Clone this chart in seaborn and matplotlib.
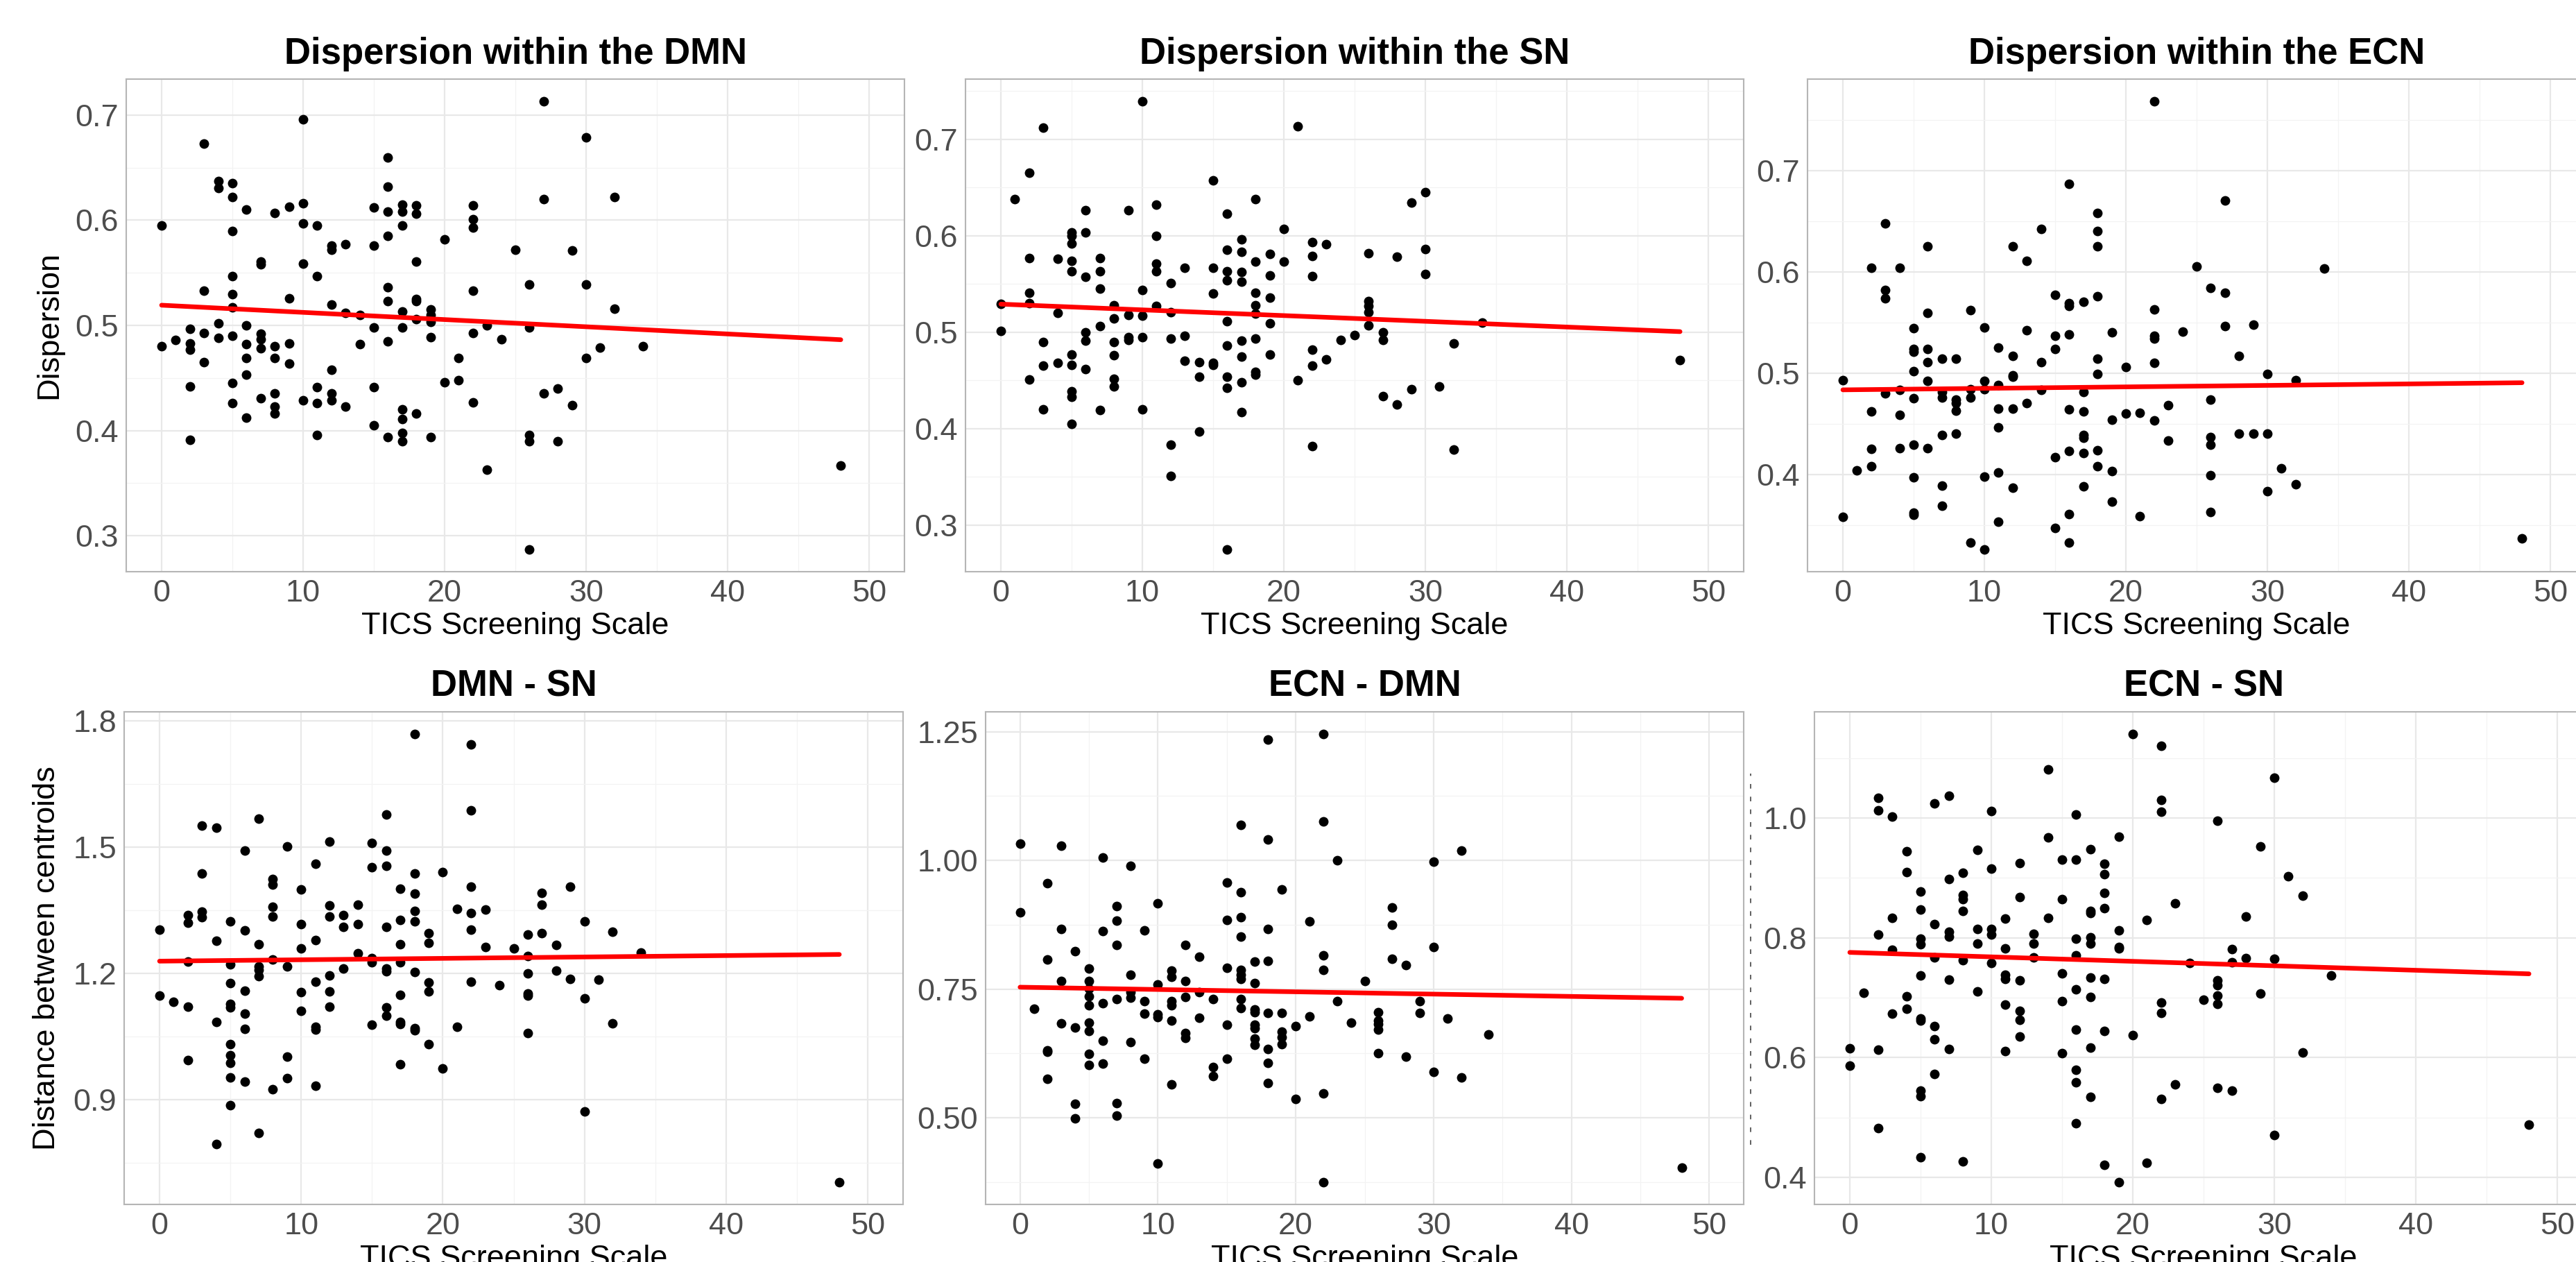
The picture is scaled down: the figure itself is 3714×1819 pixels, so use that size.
import numpy as np
import pandas as pd
import matplotlib
matplotlib.use("Agg")
import matplotlib.pyplot as plt
import seaborn as sns
from matplotlib.lines import Line2D

# ---------------- data (TICS score -> values) ----------------
disp_dmn = {0: [0.595, 0.480], 1: [0.486], 2: [0.497, 0.483, 0.477, 0.442, 0.391],
            3: [0.673, 0.533, 0.493, 0.465], 4: [0.637, 0.631, 0.502, 0.488],
            5: [0.635, 0.622, 0.590, 0.547, 0.530, 0.517, 0.490, 0.445, 0.426],
            6: [0.610, 0.500, 0.482, 0.469, 0.453, 0.412], 7: [0.561, 0.558, 0.492, 0.487, 0.478, 0.431],
            8: [0.607, 0.480, 0.469, 0.435, 0.423, 0.416], 9: [0.613, 0.526, 0.483, 0.464],
            10: [0.696, 0.616, 0.597, 0.559, 0.429], 11: [0.595, 0.547, 0.441, 0.426, 0.396],
            12: [0.576, 0.572, 0.520, 0.458, 0.435, 0.429], 13: [0.577, 0.512, 0.423], 14: [0.510, 0.482],
            15: [0.612, 0.576, 0.498, 0.441, 0.405], 16: [0.660, 0.632, 0.608, 0.585, 0.536, 0.523, 0.485, 0.394],
            17: [0.615, 0.608, 0.595, 0.513, 0.498, 0.420, 0.411, 0.398, 0.390],
            18: [0.614, 0.606, 0.561, 0.525, 0.523, 0.506, 0.416], 19: [0.515, 0.510, 0.503, 0.489, 0.394],
            20: [0.582, 0.446], 21: [0.469, 0.448], 22: [0.614, 0.601, 0.593, 0.533, 0.493, 0.427],
            23: [0.500, 0.363], 24: [0.487], 25: [0.572], 26: [0.539, 0.498, 0.396, 0.390, 0.287],
            27: [0.713, 0.620, 0.435], 28: [0.440, 0.390], 29: [0.571, 0.424], 30: [0.679, 0.539, 0.469],
            31: [0.479], 32: [0.622, 0.516], 34: [0.480], 48: [0.367]}

disp_sn = {0: [0.529, 0.501], 1: [0.638], 2: [0.665, 0.577, 0.541, 0.530, 0.451],
           3: [0.712, 0.490, 0.465, 0.420], 4: [0.576, 0.520, 0.468],
           5: [0.603, 0.600, 0.592, 0.574, 0.563, 0.477, 0.466, 0.439, 0.433, 0.405],
           6: [0.626, 0.603, 0.557, 0.500, 0.491, 0.462], 7: [0.577, 0.563, 0.545, 0.506, 0.419],
           8: [0.528, 0.514, 0.490, 0.476, 0.452, 0.444], 9: [0.626, 0.518, 0.495, 0.492],
           10: [0.739, 0.544, 0.517, 0.495, 0.420], 11: [0.632, 0.600, 0.571, 0.563, 0.527],
           12: [0.551, 0.521, 0.493, 0.383, 0.351], 13: [0.567, 0.496, 0.470], 14: [0.469, 0.454, 0.397],
           15: [0.657, 0.567, 0.540, 0.468, 0.466],
           16: [0.623, 0.585, 0.563, 0.554, 0.511, 0.486, 0.454, 0.442, 0.275],
           17: [0.596, 0.583, 0.562, 0.552, 0.491, 0.475, 0.448, 0.417],
           18: [0.638, 0.573, 0.541, 0.528, 0.519, 0.493, 0.459, 0.456],
           19: [0.581, 0.559, 0.536, 0.509, 0.477], 20: [0.607, 0.573], 21: [0.713, 0.450],
           22: [0.593, 0.579, 0.558, 0.482, 0.465, 0.382], 23: [0.591, 0.472], 24: [0.492], 25: [0.497],
           26: [0.582, 0.532, 0.527, 0.521, 0.507], 27: [0.500, 0.492, 0.434], 28: [0.578, 0.425],
           29: [0.634, 0.441], 30: [0.645, 0.586, 0.560], 31: [0.444], 32: [0.488, 0.378],
           34: [0.510], 48: [0.471]}

disp_ecn = {0: [0.493, 0.358], 1: [0.404], 2: [0.604, 0.462, 0.425, 0.408],
            3: [0.648, 0.582, 0.574, 0.480], 4: [0.604, 0.483, 0.459, 0.426],
            5: [0.544, 0.524, 0.521, 0.502, 0.475, 0.429, 0.397, 0.362, 0.360],
            6: [0.625, 0.559, 0.524, 0.511, 0.492, 0.426], 7: [0.514, 0.481, 0.476, 0.439, 0.389, 0.369],
            8: [0.514, 0.474, 0.470, 0.463, 0.440], 9: [0.562, 0.484, 0.476, 0.333],
            10: [0.545, 0.492, 0.484, 0.398, 0.326], 11: [0.525, 0.488, 0.465, 0.446, 0.402, 0.353],
            12: [0.625, 0.517, 0.498, 0.496, 0.465, 0.387], 13: [0.611, 0.542, 0.470],
            14: [0.642, 0.511, 0.483], 15: [0.577, 0.537, 0.524, 0.417, 0.347],
            16: [0.687, 0.569, 0.566, 0.538, 0.464, 0.423, 0.361, 0.333],
            17: [0.570, 0.481, 0.462, 0.439, 0.436, 0.421, 0.388],
            18: [0.658, 0.640, 0.625, 0.576, 0.514, 0.499, 0.424, 0.408],
            19: [0.540, 0.454, 0.403, 0.373], 20: [0.506, 0.460], 21: [0.461, 0.359],
            22: [0.768, 0.563, 0.537, 0.534, 0.510, 0.453], 23: [0.468, 0.433], 24: [0.541], 25: [0.605],
            26: [0.584, 0.474, 0.437, 0.429, 0.399, 0.363], 27: [0.670, 0.579, 0.546],
            28: [0.517, 0.440], 29: [0.548, 0.440], 30: [0.499, 0.440, 0.383], 31: [0.406],
            32: [0.493, 0.390], 34: [0.603], 48: [0.337]}

dist_dmn_sn = {0: [1.304, 1.148], 1: [1.133], 2: [1.339, 1.320, 1.228, 1.122, 0.994],
               3: [1.551, 1.437, 1.347, 1.333], 4: [1.546, 1.277, 1.085, 0.795],
               5: [1.323, 1.221, 1.177, 1.127, 1.119, 1.033, 1.006, 0.988, 0.953, 0.888],
               6: [1.491, 1.302, 1.159, 1.104, 1.068, 0.943], 7: [1.568, 1.269, 1.216, 1.209, 1.194, 0.821],
               8: [1.425, 1.411, 1.358, 1.335, 1.233, 0.926], 9: [1.501, 1.217, 1.002, 0.951],
               10: [1.399, 1.318, 1.260, 1.155, 1.111], 11: [1.461, 1.279, 1.180, 1.073, 1.067, 0.933],
               12: [1.513, 1.361, 1.336, 1.195, 1.158, 1.121], 13: [1.339, 1.311, 1.211],
               14: [1.363, 1.318, 1.248], 15: [1.510, 1.453, 1.236, 1.226, 1.079],
               16: [1.578, 1.491, 1.455, 1.310, 1.212, 1.205, 1.119, 1.099],
               17: [1.402, 1.327, 1.270, 1.227, 1.150, 1.085, 1.080, 0.985],
               18: [1.768, 1.437, 1.390, 1.349, 1.323, 1.204, 1.070, 1.066],
               19: [1.295, 1.273, 1.179, 1.157, 1.033], 20: [1.440, 0.975], 21: [1.353, 1.073],
               22: [1.743, 1.588, 1.406, 1.343, 1.304, 1.181], 23: [1.352, 1.263], 24: [1.172],
               25: [1.260], 26: [1.292, 1.242, 1.201, 1.153, 1.147, 1.059], 27: [1.392, 1.363, 1.296],
               28: [1.267, 1.207], 29: [1.406, 1.187], 30: [1.323, 1.141, 0.873], 31: [1.186],
               32: [1.299, 1.082], 34: [1.250], 48: [0.705]}

dist_ecn_dmn = {0: [1.033, 0.899], 1: [0.712], 2: [0.956, 0.807, 0.631, 0.628, 0.575],
                3: [1.028, 0.867, 0.765, 0.683], 4: [0.824, 0.675, 0.527, 0.498],
                5: [0.790, 0.765, 0.751, 0.736, 0.719, 0.684, 0.669, 0.624, 0.602],
                6: [1.006, 0.863, 0.723, 0.650, 0.605], 7: [0.911, 0.883, 0.836, 0.730, 0.528, 0.504],
                8: [0.989, 0.778, 0.744, 0.733, 0.647], 9: [0.864, 0.726, 0.702, 0.614],
                10: [0.916, 0.759, 0.701, 0.696, 0.411], 11: [0.786, 0.774, 0.727, 0.718, 0.689, 0.565],
                12: [0.835, 0.765, 0.735, 0.664, 0.655], 13: [0.813, 0.744, 0.694],
                14: [0.731, 0.599, 0.581], 15: [0.957, 0.884, 0.791, 0.680, 0.614],
                16: [1.069, 0.938, 0.889, 0.852, 0.787, 0.778, 0.770, 0.731, 0.713],
                17: [0.803, 0.762, 0.710, 0.705, 0.680, 0.674, 0.654, 0.641],
                18: [1.234, 1.040, 0.867, 0.805, 0.703, 0.634, 0.607, 0.567],
                19: [0.943, 0.704, 0.667, 0.656, 0.643], 20: [0.678, 0.537], 21: [0.881, 0.697],
                22: [1.245, 1.076, 0.815, 0.787, 0.547, 0.375], 23: [1.000, 0.727], 24: [0.684],
                25: [0.765], 26: [0.705, 0.689, 0.682, 0.671, 0.625], 27: [0.909, 0.875, 0.809],
                28: [0.797, 0.619], 29: [0.726, 0.704], 30: [0.997, 0.831, 0.589], 31: [0.693],
                32: [1.019, 0.578], 34: [0.662], 48: [0.403]}

dist_ecn_sn = {0: [0.615, 0.586], 1: [0.708], 2: [1.034, 1.013, 0.805, 0.613, 0.482],
               3: [1.002, 0.833, 0.780, 0.673], 4: [0.944, 0.910, 0.702, 0.681],
               5: [0.877, 0.847, 0.799, 0.789, 0.737, 0.665, 0.662, 0.545, 0.535, 0.433],
               6: [1.025, 0.823, 0.767, 0.653, 0.630, 0.573], 7: [1.037, 0.898, 0.810, 0.802, 0.730, 0.614],
               8: [0.908, 0.872, 0.864, 0.845, 0.763, 0.427], 9: [0.947, 0.815, 0.790, 0.710],
               10: [1.012, 0.915, 0.815, 0.805, 0.758], 11: [0.832, 0.782, 0.738, 0.731, 0.688, 0.611],
               12: [0.925, 0.868, 0.729, 0.678, 0.663, 0.635], 13: [0.807, 0.790, 0.767],
               14: [1.081, 0.968, 0.833], 15: [0.930, 0.865, 0.740, 0.694, 0.607],
               16: [1.006, 0.931, 0.798, 0.771, 0.714, 0.647, 0.580, 0.558, 0.490],
               17: [0.948, 0.845, 0.841, 0.801, 0.790, 0.733, 0.701, 0.616, 0.534],
               18: [0.924, 0.906, 0.875, 0.849, 0.731, 0.644, 0.421],
               19: [0.969, 0.812, 0.785, 0.782, 0.392], 20: [1.140, 0.637], 21: [0.830, 0.424],
               22: [1.121, 1.030, 1.010, 0.692, 0.675, 0.531], 23: [0.857, 0.555], 24: [0.758],
               25: [0.697], 26: [0.995, 0.729, 0.721, 0.703, 0.690, 0.549], 27: [0.781, 0.759, 0.545],
               28: [0.835, 0.766], 29: [0.953, 0.707], 30: [1.067, 0.765, 0.470], 31: [0.903],
               32: [0.870, 0.608], 34: [0.737], 48: [0.488]}

titles = ["Dispersion within the DMN", "Dispersion within the SN", "Dispersion within the ECN",
          "DMN - SN", "ECN - DMN", "ECN - SN"]
ylabels = ["Dispersion", "", "", "Distance between centroids", "", ""]
xlabel = "TICS Screening Scale"
x_ticks = [0, 10, 20, 30, 40, 50]
y_ticks = [[0.3, 0.4, 0.5, 0.6, 0.7], [0.3, 0.4, 0.5, 0.6, 0.7], [0.4, 0.5, 0.6, 0.7],
           [0.9, 1.2, 1.5, 1.8], [0.50, 0.75, 1.00, 1.25], [0.4, 0.6, 0.8, 1.0]]
y_fmt = ["{:.1f}", "{:.1f}", "{:.1f}", "{:.1f}", "{:.2f}", "{:.1f}"]
datasets = [disp_dmn, disp_sn, disp_ecn, dist_dmn_sn, dist_ecn_dmn, dist_ecn_sn]

# ---------------- layout (pixel boxes: left, right, top, bottom) ----------------
W, H = 3714, 1819
boxes = [(182, 1304, 114, 824), (1392, 2514, 114, 824), (2606, 3728, 114, 824),
         (179, 1302, 1026, 1736), (1421, 2514, 1026, 1736), (2616, 3738, 1026, 1736)]

sns.set_theme(style="white")
plt.rcParams['font.family'] = ['Liberation Sans', 'DejaVu Sans']

fig = plt.figure(figsize=(W / 100, H / 100), dpi=100)
fig.patch.set_facecolor("white")

GRID_MAJ = "#E8E8E8"
GRID_MIN = "#F3F3F3"
FRAME = "#B5B5B5"
TICKCOL = "#4D4D4D"


def to_frame(d):
    xs, ys = [], []
    for k, vals in d.items():
        for v in vals:
            xs.append(k)
            ys.append(v)
    return pd.DataFrame({"tics": xs, "value": ys})


for i, (d, box) in enumerate(zip(datasets, boxes)):
    l, r, t, b = box
    ax = fig.add_axes([l / W, 1 - b / H, (r - l) / W, (b - t) / H])
    df = to_frame(d)
    sns.regplot(data=df, x="tics", y="value", ax=ax, ci=None, truncate=True,
                scatter_kws=dict(s=100, color="black", linewidths=0, alpha=1, zorder=3),
                line_kws=dict(color="#FF0000", lw=4.8, zorder=4))
    ax.set_xlim(-2.5, 52.5)
    lo, hi = df["value"].min(), df["value"].max()
    pad = 0.05 * (hi - lo)

    yt = y_ticks[i]
    step = yt[1] - yt[0]
    ax.set_xticks(x_ticks)
    ax.set_xticklabels([str(v) for v in x_ticks])
    ax.set_xticks([v + 5 for v in x_ticks[:-1]], minor=True)
    ax.set_yticks(yt)
    ax.set_yticklabels([y_fmt[i].format(v) for v in yt])
    ax.set_yticks([yt[0] - step / 2] + [v + step / 2 for v in yt], minor=True)
    ax.set_ylim(lo - pad, hi + pad)

    ax.grid(True, which="major", color=GRID_MAJ, lw=1.6, zorder=0)
    ax.grid(True, which="minor", color=GRID_MIN, lw=0.9, zorder=0)
    ax.set_axisbelow(True)
    for s in ax.spines.values():
        s.set_visible(True)
        s.set_color(FRAME)
        s.set_linewidth(1.5)
    ax.tick_params(which="both", length=0, pad=8, labelsize=32.5, colors=TICKCOL)
    ax.tick_params(which="both", labelcolor=TICKCOL)

    ax.set_title(titles[i], fontsize=38, fontweight="bold", color="black", pad=16)
    ax.set_xlabel(xlabel, fontsize=32.5, color="black", labelpad=4)
    ax.set_ylabel(ylabels[i], fontsize=32.5, color="black", labelpad=12)

# faint dashed remnant at the left edge of the last panel
fig.add_artist(Line2D([2524 / W, 2524 / W], [1 - 1650 / H, 1 - 1115 / H],
                      transform=fig.transFigure, color="#444444", lw=1.2,
                      linestyle=(0, (4, 7))))

fig.savefig("out.png", dpi=100, facecolor="white")
